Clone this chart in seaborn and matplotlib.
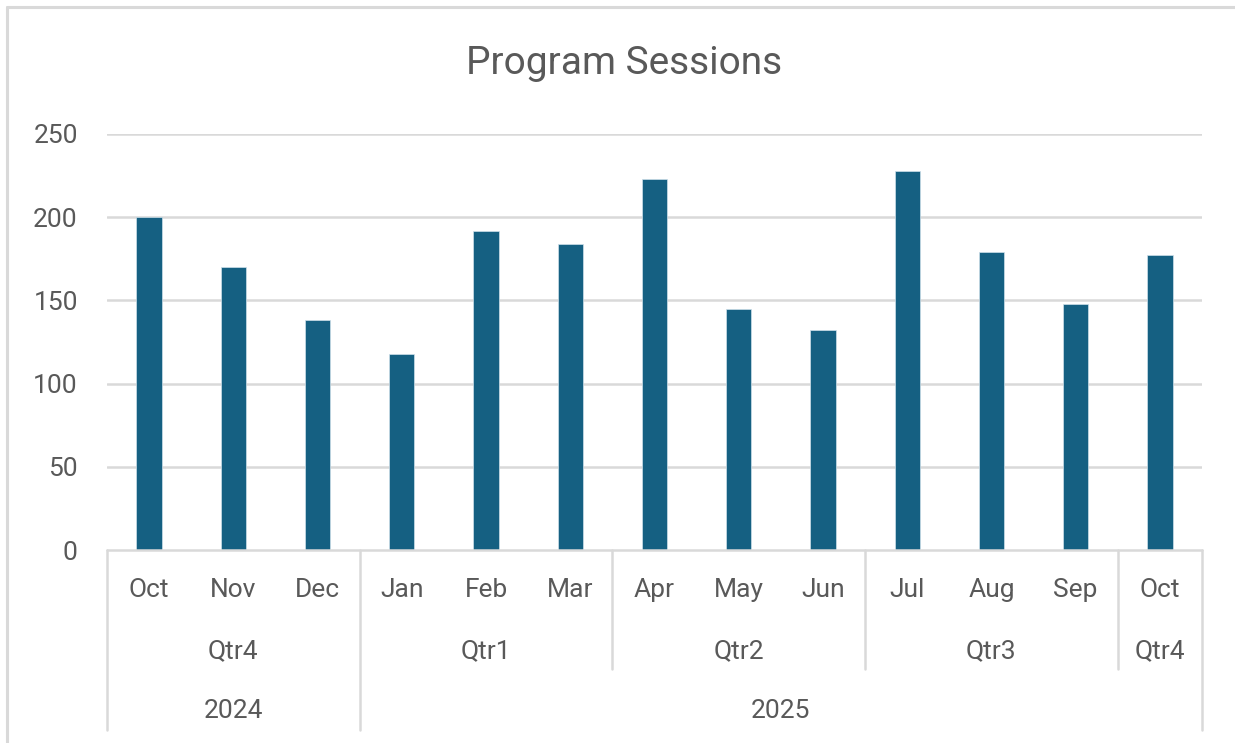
import matplotlib
matplotlib.use("Agg")
import matplotlib.pyplot as plt
import matplotlib.transforms as mtransforms
from matplotlib.lines import Line2D
import seaborn as sns
import pandas as pd

# ---- data ----
months = ["Oct", "Nov", "Dec", "Jan", "Feb", "Mar", "Apr", "May", "Jun", "Jul", "Aug", "Sep", "Oct"]
quarters = ["Qtr4", "Qtr4", "Qtr4", "Qtr1", "Qtr1", "Qtr1", "Qtr2", "Qtr2", "Qtr2",
            "Qtr3", "Qtr3", "Qtr3", "Qtr4"]
years = ["2024", "2024", "2024", "2025", "2025", "2025", "2025", "2025", "2025",
         "2025", "2025", "2025", "2025"]
sessions = [200, 170, 138, 118, 192, 184, 223, 145, 132, 228, 179, 148, 177]
title = "Program Sessions"
yticks = [0, 50, 100, 150, 200, 250]

keys = [f"{m} {y}" for m, y in zip(months, years)]
df = pd.DataFrame({"key": keys, "Sessions": sessions})

sns.set_theme(style="white")
plt.rcParams["font.family"] = ["Roboto", "DejaVu Sans"]

TXT = "#595959"
GRID = "#d9d9d9"
BAR = "#156082"

W, H = 1235, 743
fig = plt.figure(figsize=(W / 100, H / 100), dpi=100)
fig.patch.set_facecolor("white")

left, right, bottom, top = 107, 1202, 550, 134
ax = fig.add_axes([left / W, 1 - bottom / H, (right - left) / W, (bottom - top) / H])

sns.barplot(data=df, x="key", y="Sessions", order=keys, color=BAR, width=0.3,
            saturation=1, edgecolor="#cfe0ea", linewidth=0.5, ax=ax, zorder=3)

FS = 19
n = len(months)
ax.set_xlim(-0.5, n - 0.5)
ax.set_ylim(yticks[0], yticks[-1])
ax.set_yticks(yticks)
ax.set_yticklabels([str(v) for v in yticks])
ax.tick_params(axis="y", length=0, pad=21, labelsize=FS, labelcolor=TXT)
ax.set_xticks([])
ax.set_xlabel("")
ax.set_ylabel("")
for s in ax.spines.values():
    s.set_visible(False)
ax.grid(False)
for v in yticks[1:]:
    ax.axhline(v, color=GRID, lw=1.8, zorder=1)
ax.axhline(0, color=GRID, lw=1.8, zorder=4, clip_on=False)

trans = mtransforms.blended_transform_factory(ax.transData, ax.transAxes)
ph = bottom - top
y_month = -(590 - bottom) / ph
y_qtr = -(651 - bottom) / ph
y_year = -(711 - bottom) / ph
y_qline = -(669 - bottom) / ph
y_yline = -(730 - bottom) / ph

for i, m in enumerate(months):
    ax.text(i, y_month, m, transform=trans, ha="center", va="center", fontsize=FS, color=TXT)

def groups(labels, parent=None):
    out = []
    start = 0
    for i in range(1, len(labels) + 1):
        if i == len(labels) or labels[i] != labels[start] or (parent is not None and parent[i] != parent[start]):
            out.append((start, i - 1, labels[start]))
            start = i
    return out

qgroups = groups(quarters, years)
ygroups = groups(years)
ybounds = set()
for s, e, lab in ygroups:
    ybounds.add(s - 0.5)
    ybounds.add(e + 0.5)
    ax.text((s + e) / 2, y_year, lab, transform=trans, ha="center", va="center", fontsize=FS, color=TXT)
for s, e, lab in qgroups:
    ax.text((s + e) / 2, y_qtr, lab, transform=trans, ha="center", va="center", fontsize=FS, color=TXT)
qbounds = set()
for s, e, _ in qgroups:
    qbounds.add(s - 0.5)
    qbounds.add(e + 0.5)
for b in sorted(qbounds | ybounds):
    yend = y_yline if b in ybounds else y_qline
    ax.add_line(Line2D([b, b], [0, yend], transform=trans, color=GRID, lw=1.8, clip_on=False, zorder=4))

fig.text(624 / W, 1 - 63 / H, title, ha="center", va="center", fontsize=28, color=TXT)

# outer chart border (partly cropped)
fig.add_artist(Line2D([7 / W, 7 / W], [0, 1 - 7 / H], transform=fig.transFigure, color=GRID, lw=2.2))
fig.add_artist(Line2D([7 / W, 1], [1 - 7 / H, 1 - 7 / H], transform=fig.transFigure, color=GRID, lw=2.2))

fig.savefig("out.png", dpi=100, facecolor="white")
